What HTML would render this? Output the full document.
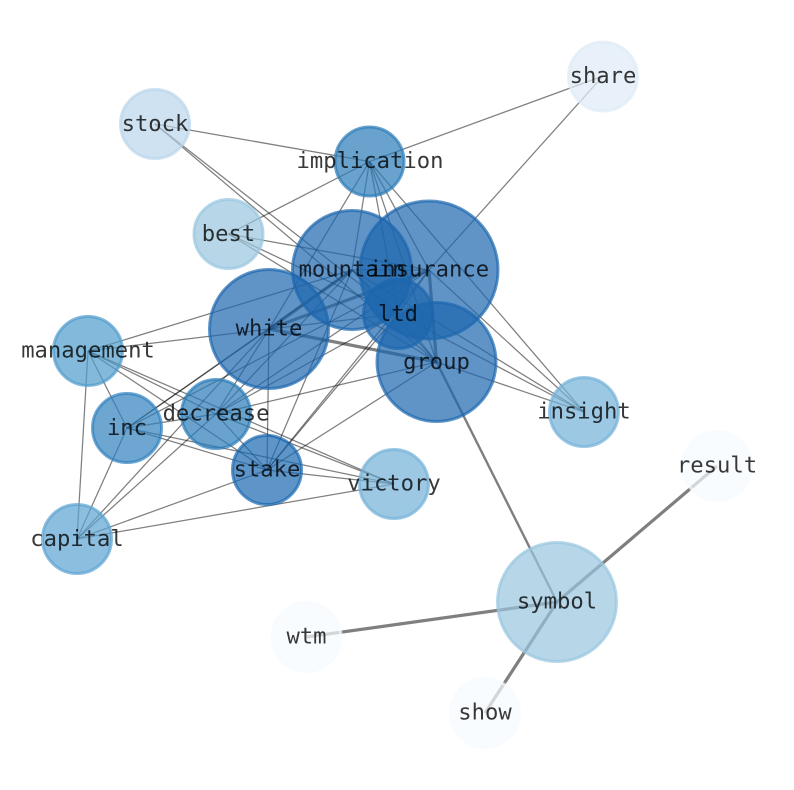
<!DOCTYPE html>
<html><head><meta charset="utf-8"><style>
html,body{margin:0;padding:0;background:#fff;width:794px;height:790px;overflow:hidden}
svg{display:block}
text{font-family:"DejaVu Sans Mono",monospace;font-size:22.2px;text-anchor:middle;fill:#000;fill-opacity:.78}
circle{stroke-width:3}
</style></head><body>
<svg width="794" height="790" viewBox="0 0 794 790" xmlns="http://www.w3.org/2000/svg">
<rect width="794" height="790" fill="#fff"/>
<g stroke="#000" stroke-opacity=".5" stroke-width="1.25" fill="none">
<!-- implication -->
<line x1="369.5" y1="161.5" x2="155" y2="124"/>
<line x1="369.5" y1="161.5" x2="603" y2="76"/>
<line x1="369.5" y1="161.5" x2="228.5" y2="234"/>
<line x1="369.5" y1="161.5" x2="352" y2="270"/>
<line x1="369.5" y1="161.5" x2="429" y2="270"/>
<line x1="369.5" y1="161.5" x2="398" y2="314"/>
<line x1="369.5" y1="161.5" x2="269" y2="329"/>
<line x1="369.5" y1="161.5" x2="436.5" y2="362"/>
<line x1="369.5" y1="161.5" x2="584" y2="412"/>
<!-- stock, share, best -->
<line x1="155" y1="124" x2="398" y2="314"/>
<line x1="155" y1="124" x2="436.5" y2="362"/>
<line x1="603" y1="76" x2="429" y2="270"/>
<line x1="228.5" y1="234" x2="429" y2="270"/>
<line x1="228.5" y1="234" x2="398" y2="314"/>
<line x1="228.5" y1="234" x2="436.5" y2="362"/>
<!-- insight -->
<line x1="584" y1="412" x2="429" y2="270"/>
<line x1="584" y1="412" x2="352" y2="270"/>
<line x1="584" y1="412" x2="398" y2="314"/>
<line x1="584" y1="412" x2="436.5" y2="362"/>
<!-- management -->
<line x1="88" y1="351" x2="352" y2="270"/>
<line x1="88" y1="351" x2="269" y2="329"/>
<line x1="88" y1="351" x2="77" y2="539"/>
<line x1="88" y1="351" x2="127" y2="428"/>
<line x1="88" y1="351" x2="267" y2="470"/>
<line x1="88" y1="351" x2="394" y2="484"/>
<line x1="88" y1="351" x2="216" y2="414"/>
<!-- inc -->
<line x1="127" y1="428" x2="77" y2="539"/>
<line x1="127" y1="428" x2="269" y2="329"/>
<line x1="127" y1="428" x2="352" y2="270"/>
<line x1="127" y1="428" x2="429" y2="270"/>
<line x1="127" y1="428" x2="216" y2="414"/>
<line x1="127" y1="428" x2="267" y2="470"/>
<line x1="127" y1="428" x2="394" y2="484"/>
<!-- capital -->
<line x1="77" y1="539" x2="216" y2="414"/>
<line x1="77" y1="539" x2="269" y2="329"/>
<line x1="77" y1="539" x2="267" y2="470"/>
<line x1="77" y1="539" x2="394" y2="484"/>
<!-- stake -->
<line x1="267" y1="470" x2="269" y2="329"/>
<line x1="267" y1="470" x2="352" y2="270"/>
<line x1="267" y1="470" x2="398" y2="314"/>
<line x1="267" y1="470" x2="429" y2="270"/>
<line x1="267" y1="470" x2="436.5" y2="362"/>
<line x1="267" y1="470" x2="216" y2="414"/>
<line x1="267" y1="470" x2="394" y2="484"/>
<!-- decrease -->
<line x1="216" y1="414" x2="269" y2="329"/>
<line x1="216" y1="414" x2="352" y2="270"/>
<line x1="216" y1="414" x2="429" y2="270"/>
<line x1="216" y1="414" x2="398" y2="314"/>
<line x1="216" y1="414" x2="436.5" y2="362"/>
<line x1="216" y1="414" x2="394" y2="484"/>
<!-- core -->
<line x1="269" y1="329" x2="398" y2="314"/>
<line x1="352" y1="270" x2="429" y2="270"/>
<line x1="352" y1="270" x2="398" y2="314"/>
<line x1="352" y1="270" x2="436.5" y2="362"/>
<line x1="429" y1="270" x2="398" y2="314"/>
<line x1="398" y1="314" x2="436.5" y2="362"/>
<!-- thick -->
<line x1="269" y1="329" x2="352" y2="270" stroke-width="3.4"/>
<line x1="269" y1="329" x2="429" y2="270" stroke-width="3.2"/>
<line x1="269" y1="329" x2="436.5" y2="362" stroke-width="3.2"/>
<line x1="429" y1="270" x2="436.5" y2="362" stroke-width="3.2"/>
<line x1="436.5" y1="362" x2="557" y2="602" stroke-width="2.4"/>
<line x1="557" y1="602" x2="717" y2="466" stroke-width="3.2"/>
<line x1="557" y1="602" x2="306.5" y2="637" stroke-width="3.2"/>
<line x1="557" y1="602" x2="485" y2="713" stroke-width="3.2"/>
</g>
<g fill-opacity=".7" stroke-opacity=".7">
<circle cx="603" cy="76.5" r="34.500" fill="#deebf7" stroke="#deebf7"/>
<circle cx="155" cy="124" r="34.500" fill="#bbd6eb" stroke="#bbd6eb"/>
<circle cx="369.5" cy="161.5" r="34.500" fill="#2a7ab8" stroke="#2a7ab8"/>
<circle cx="228.5" cy="234" r="34.500" fill="#98c6df" stroke="#98c6df"/>
<circle cx="352" cy="270" r="59.500" fill="#1c66ae" stroke="#1c66ae"/>
<circle cx="429" cy="270" r="69" fill="#1c66ae" stroke="#1c66ae"/>
<circle cx="398" cy="314" r="34.500" fill="#1c66ae" stroke="#1c66ae"/>
<circle cx="269" cy="329" r="59.500" fill="#1c66ae" stroke="#1c66ae"/>
<circle cx="436.5" cy="362" r="59.500" fill="#1c66ae" stroke="#1c66ae"/>
<circle cx="88" cy="351" r="34.500" fill="#4f9bcc" stroke="#4f9bcc"/>
<circle cx="127" cy="428" r="34.500" fill="#2f80bd" stroke="#2f80bd"/>
<circle cx="216" cy="414" r="34.500" fill="#2a7ab8" stroke="#2a7ab8"/>
<circle cx="267" cy="470" r="34.500" fill="#1a68b0" stroke="#1a68b0"/>
<circle cx="394" cy="484" r="34.500" fill="#72b1d9" stroke="#72b1d9"/>
<circle cx="584" cy="412" r="34.500" fill="#72b1d9" stroke="#72b1d9"/>
<circle cx="77" cy="539" r="34.500" fill="#5ba3d2" stroke="#5ba3d2"/>
<circle cx="717" cy="466" r="34.500" fill="#f7fbff" stroke="#f7fbff"/>
<circle cx="557" cy="602" r="59.500" fill="#98c6df" stroke="#98c6df"/>
<circle cx="306.5" cy="637" r="34.500" fill="#f7fbff" stroke="#f7fbff"/>
<circle cx="485" cy="713" r="34.500" fill="#f7fbff" stroke="#f7fbff"/>
</g>
<g>
<text x="603" y="83">share</text>
<text x="155" y="131">stock</text>
<text x="370" y="168">implication</text>
<text x="228.5" y="241">best</text>
<text x="352" y="276.500">mountain</text>
<text x="429" y="276.500">insurance</text>
<text x="398" y="321">ltd</text>
<text x="269" y="335.500">white</text>
<text x="436.500" y="369">group</text>
<text x="88" y="357.500">management</text>
<text x="127" y="435">inc</text>
<text x="216" y="420.500">decrease</text>
<text x="267" y="476.500">stake</text>
<text x="394" y="490.500">victory</text>
<text x="584" y="418.500">insight</text>
<text x="77" y="546">capital</text>
<text x="717" y="472.500">result</text>
<text x="557" y="608.500">symbol</text>
<text x="306.500" y="643.500">wtm</text>
<text x="485" y="719.500">show</text>
</g>
</svg>
</body></html>
